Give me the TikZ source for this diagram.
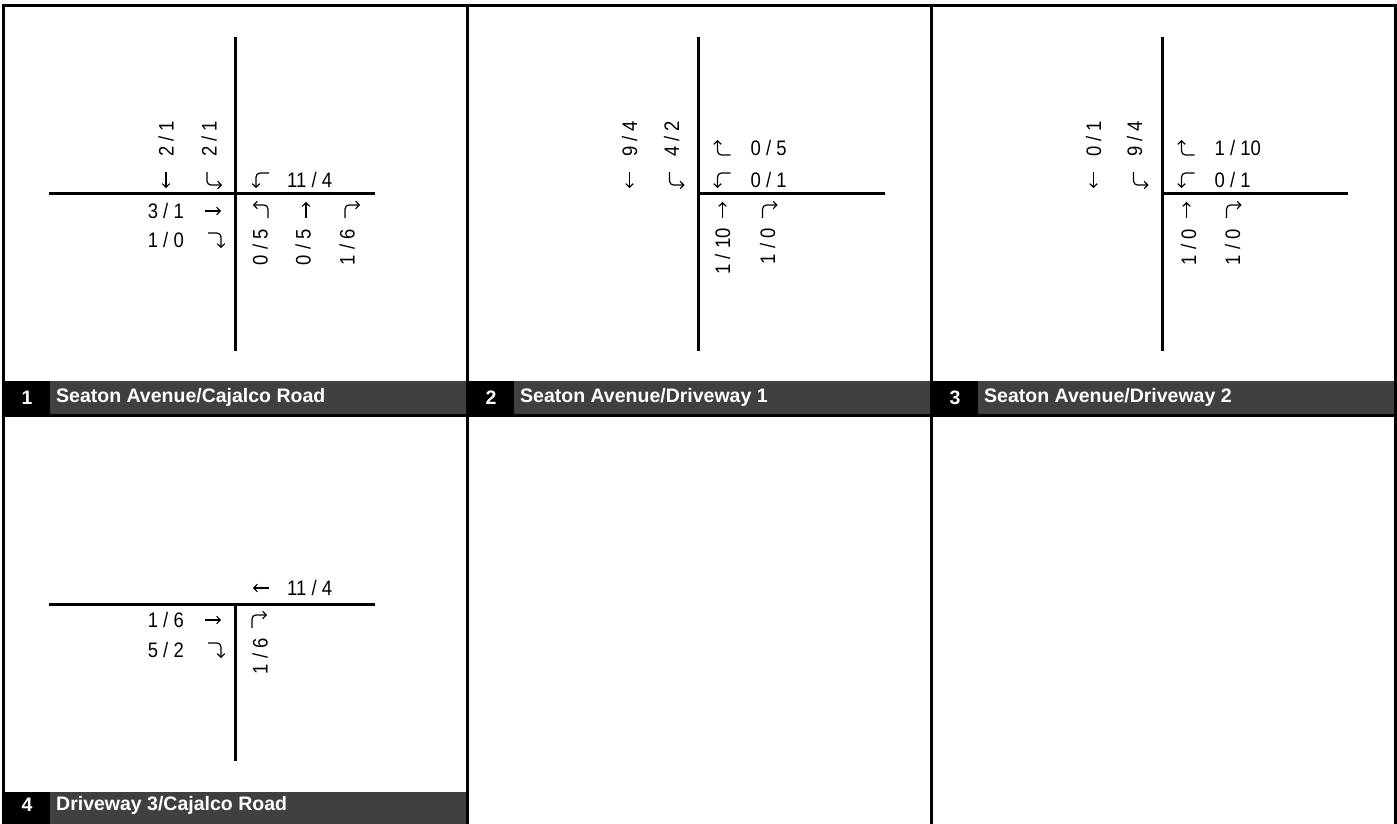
\documentclass[tikz,border=0pt]{standalone}
\usepackage{fontspec}
\setmainfont{Liberation Sans}
\newfontfamily\numfont[FakeStretch=0.88]{Liberation Sans}
\usetikzlibrary{arrows.meta}
\definecolor{bargray}{RGB}{64,64,64}
\begin{document}
\begin{tikzpicture}[x=1pt,y=-1pt,
  road/.style={line width=3pt},
  frameline/.style={line width=3pt},
  num/.style={font=\numfont\fontsize{21}{21}\selectfont, inner sep=0pt},
  barnum/.style={font=\bfseries\fontsize{19.5}{20}\selectfont, text=white, inner sep=0pt},
  bartext/.style={barnum, anchor=west},
  glyph/.style={line width=1.2pt, -{Straight Barb[length=3.5pt,width=7.5pt]}},
  straw/.pic={\draw[glyph] (0,8) -- (0,-8);},
  rtu/.pic={\draw[glyph, rounded corners=4pt] (-7,8) -- (-7,-5) -- (8,-5);},
  ltu/.pic={\draw[glyph, rounded corners=4pt] (7,8) -- (7,-5) -- (-8,-5);},
]
\useasboundingbox (0,0) rectangle (1397,824);

% title bars
\fill[black] (3.5,381) rectangle (50,414);
\fill[bargray] (50,381) rectangle (467.5,414);
\fill[black] (467.5,381) rectangle (514,414);
\fill[bargray] (514,381) rectangle (931.5,414);
\fill[black] (931.5,381) rectangle (978,414);
\fill[bargray] (978,381) rectangle (1395.5,414);
\fill[black] (3.5,792) rectangle (50,824);
\fill[bargray] (50,792) rectangle (467.5,824);

\node[barnum] (b1n) at (27,397.5) {1};
\node[bartext] (b1t) at (56,397.5) {Seaton Avenue/Cajalco Road};
\node[barnum] (b2n) at (491,397.5) {2};
\node[bartext] (b2t) at (520,397.5) {Seaton Avenue/Driveway 1};
\node[barnum] (b3n) at (955,397.5) {3};
\node[bartext] (b3t) at (984,397.5) {Seaton Avenue/Driveway 2};
\node[barnum] (b4n) at (27,805) {4};
\node[bartext] (b4t) at (56,805) {Driveway 3/Cajalco Road};

% frame
\draw[frameline] (2,5.5) -- (1397,5.5);
\draw[frameline] (2,415.5) -- (1397,415.5);
\draw[frameline] (3.5,4) -- (3.5,824);
\draw[frameline] (467.5,4) -- (467.5,824);
\draw[frameline] (931.5,4) -- (931.5,824);
\draw[frameline] (1395.5,4) -- (1395.5,824);

% ---------- panel 1
\begin{scope}[shift={(235,193)}]
\draw[road] (0,-156) -- (0,158);
\draw[road] (-186,0) -- (140,0);
\node[num, rotate=90, anchor=west] (a1) at (-69,-36) {2 / 1};
\node[num, rotate=90, anchor=west] (a2) at (-26,-36) {2 / 1};
\pic[rotate=180] at (-69,-13) {straw};
\pic[rotate=180] at (-21,-13) {ltu};
\pic[rotate=90] at (26,-13) {ltu};
\node[num, anchor=west] (a3) at (52,-13) {11 / 4};
\node[num, anchor=east] (a4) at (-51,18) {3 / 1};
\pic[rotate=-90] at (-22,18) {straw};
\node[num, anchor=east] (a5) at (-51,47) {1 / 0};
\pic[rotate=-90] at (-19,47) {rtu};
\pic at (26,17) {ltu};
\pic at (71,17) {straw};
\pic at (117,17) {rtu};
\node[num, rotate=90, anchor=east] (a6) at (25,36) {0 / 5};
\node[num, rotate=90, anchor=east] (a7) at (68,36) {0 / 5};
\node[num, rotate=90, anchor=east] (a8) at (112,36) {1 / 6};
\end{scope}

% ---------- panel 2
\begin{scope}[shift={(698.5,193)}]
\draw[road] (0,-156) -- (0,158);
\draw[road] (0,0) -- (186.5,0);
\node[num, rotate=90, anchor=west] (c1) at (-69,-36) {9 / 4};
\node[num, rotate=90, anchor=west] (c2) at (-27,-36) {4 / 2};
\pic[rotate=180] at (-69,-13) {straw};
\pic[rotate=180] at (-22,-13) {ltu};
\pic[rotate=90] at (24,-45) {rtu};
\node[num, anchor=west] (c3) at (52,-45) {0 / 5};
\pic[rotate=90] at (24,-13) {ltu};
\node[num, anchor=west] (c4) at (52,-13) {0 / 1};
\pic at (24,17) {straw};
\pic at (71,17) {rtu};
\node[num, rotate=90, anchor=east] (c5) at (24,35) {1 / 10};
\node[num, rotate=90, anchor=east] (c6) at (69,35) {1 / 0};
\end{scope}

% ---------- panel 3
\begin{scope}[shift={(1162.5,193)}]
\draw[road] (0,-156) -- (0,158);
\draw[road] (0,0) -- (185.5,0);
\node[num, rotate=90, anchor=west] (d1) at (-69,-36) {0 / 1};
\node[num, rotate=90, anchor=west] (d2) at (-28,-36) {9 / 4};
\pic[rotate=180] at (-69,-13) {straw};
\pic[rotate=180] at (-22,-13) {ltu};
\pic[rotate=90] at (24,-45) {rtu};
\node[num, anchor=west] (d3) at (52,-45) {1 / 10};
\pic[rotate=90] at (24,-13) {ltu};
\node[num, anchor=west] (d4) at (52,-13) {0 / 1};
\pic at (24,17) {straw};
\pic at (71,17) {rtu};
\node[num, rotate=90, anchor=east] (d5) at (26,36) {1 / 0};
\node[num, rotate=90, anchor=east] (d6) at (70,36) {1 / 0};
\end{scope}

% ---------- panel 4
\begin{scope}[shift={(235,604)}]
\draw[road] (0,0) -- (0,157);
\draw[road] (-186,0) -- (140,0);
\pic[rotate=90] at (26,-16) {straw};
\node[num, anchor=west] (e1) at (52,-16) {11 / 4};
\node[num, anchor=east] (e2) at (-51,16) {1 / 6};
\pic[rotate=-90] at (-22,16) {straw};
\node[num, anchor=east] (e3) at (-51,46) {5 / 2};
\pic[rotate=-90] at (-19,46) {rtu};
\pic at (24,16) {rtu};
\node[num, rotate=90, anchor=east] (e4) at (25,34) {1 / 6};
\end{scope}
\end{tikzpicture}
\end{document}
